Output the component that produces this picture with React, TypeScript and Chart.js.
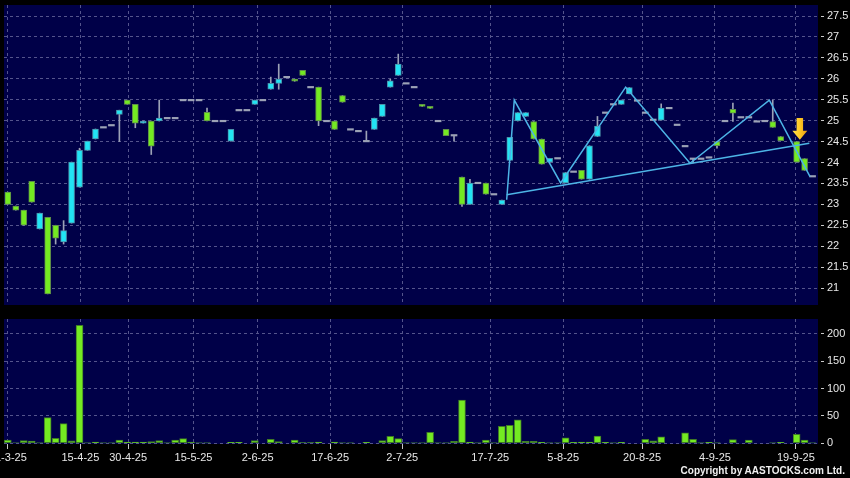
import React, { useEffect, useRef } from 'react';
import { Chart, registerables } from 'chart.js';

Chart.register(...registerables);

// ---- data (one entry per trading slot, null = no trade) ----
const opens = [23.29, 22.96, 22.86, 23.55, 22.41, 22.69, 22.50, 22.10, 22.55, 23.41,
  24.29, 24.56, 24.84, 24.89, 25.15, 25.49, 25.39, 24.94, 24.99, 24.99,
  25.06, 25.06, 25.49, 25.49, 25.49, 25.20, 24.99, 24.99, 24.51, 25.25,
  25.25, 25.39, 25.49, 25.75, 25.89, 26.04, 25.99, 26.20, 25.80, 25.80,
  24.99, 24.99, 25.60, 24.79, 24.75, 24.51, 24.79, 25.10, 25.80, 26.08,
  25.89, 25.80, 25.39, 25.34, 24.99, 24.79, 24.65, 23.65, 23.00, 23.51,
  23.51, 23.24, 23.00, 24.05, 24.99, 25.10, 24.98, 24.56, 24.01, 24.10,
  23.51, 23.78, 23.81, 23.60, 24.62, 25.19, 25.39, 25.39, 25.64, 25.48,
  25.19, 25.02, 25.01, 25.30, 24.90, 24.39, 24.09, 24.09, 24.12, 24.50,
  24.99, 25.27, 25.08, 25.08, 24.98, 24.99, 24.98, 24.62, null, 24.50,
  24.09, 23.67];
const highs = [23.29, 22.96, 22.86, 23.55, 22.79, 22.69, 22.50, 22.61, 24.01, 24.34,
  24.51, 24.80, 24.84, 24.89, 25.25, 25.49, 25.39, 24.99, 24.99, 25.49,
  25.06, 25.06, 25.49, 25.49, 25.49, 25.30, 24.99, 24.99, 24.79, 25.25,
  25.25, 25.49, 25.49, 26.04, 26.35, 26.04, 25.99, 26.20, 25.80, 25.80,
  24.99, 24.99, 25.60, 24.79, 24.75, 24.75, 25.06, 25.39, 25.99, 26.59,
  25.89, 25.80, 25.39, 25.34, 24.99, 24.79, 24.65, 23.65, 23.60, 23.51,
  23.51, 23.24, 23.10, 24.60, 25.19, 25.19, 24.98, 24.56, 24.10, 24.10,
  23.76, 23.78, 23.81, 24.40, 25.10, 25.19, 25.39, 25.49, 25.79, 25.48,
  25.19, 25.02, 25.40, 25.30, 24.90, 24.39, 24.09, 24.09, 24.12, 24.50,
  24.99, 25.42, 25.08, 25.08, 24.98, 24.99, 25.49, 24.62, null, 24.50,
  24.09, 23.67];
const lows = [23.00, 22.86, 22.50, 23.05, 22.41, 20.86, 22.05, 22.05, 22.55, 23.41,
  24.29, 24.56, 24.84, 24.89, 24.50, 25.39, 24.83, 24.94, 24.19, 24.99,
  25.06, 25.06, 25.49, 25.49, 25.49, 24.99, 24.99, 24.99, 24.51, 25.25,
  25.25, 25.39, 25.49, 25.75, 25.75, 26.04, 25.94, 26.08, 25.80, 24.88,
  24.99, 24.79, 25.44, 24.79, 24.75, 24.51, 24.79, 25.10, 25.80, 26.08,
  25.89, 25.80, 25.34, 25.29, 24.99, 24.64, 24.51, 22.95, 23.00, 23.51,
  23.24, 23.24, 23.00, 24.05, 24.99, 25.10, 24.56, 23.96, 24.01, 24.10,
  23.51, 23.78, 23.60, 23.60, 24.62, 25.19, 25.39, 25.39, 25.64, 25.48,
  25.19, 25.02, 25.01, 25.30, 24.90, 24.39, 23.99, 24.09, 24.12, 24.34,
  24.99, 24.98, 25.08, 25.08, 24.98, 24.99, 24.84, 24.52, null, 24.01,
  23.81, 23.67];
const closes = [23.00, 22.86, 22.50, 23.05, 22.79, 20.86, 22.19, 22.37, 24.01, 24.29,
  24.51, 24.80, 24.84, 24.89, 25.25, 25.39, 24.94, 24.99, 24.39, 25.06,
  25.06, 25.06, 25.49, 25.49, 25.49, 24.99, 24.99, 24.99, 24.79, 25.25,
  25.25, 25.49, 25.49, 25.89, 25.99, 26.04, 25.94, 26.08, 25.80, 24.99,
  24.99, 24.79, 25.44, 24.79, 24.75, 24.51, 25.06, 25.39, 25.95, 26.35,
  25.89, 25.80, 25.34, 25.29, 24.99, 24.64, 24.65, 23.00, 23.51, 23.51,
  23.24, 23.24, 23.10, 24.60, 25.19, 25.19, 24.56, 23.96, 24.10, 24.10,
  23.76, 23.78, 23.60, 24.40, 24.87, 25.19, 25.39, 25.49, 25.79, 25.48,
  25.19, 25.02, 25.30, 25.30, 24.90, 24.39, 24.09, 24.09, 24.12, 24.40,
  24.99, 25.18, 25.08, 25.08, 24.98, 24.99, 24.84, 24.52, null, 24.01,
  23.81, 23.67];
const volumes = [6, 1, 5, 4, 0.8, 47, 9, 36, 4.3, 216,
  0.8, 2.4, 0.8, 0.8, 6, 2.4, 2.4, 2.4, 3, 4.9,
  0.8, 6, 8.5, 2, 0.8, 0.8, 0, 0, 1.8, 1.8,
  0, 4.9, 0, 7.3, 3, 0, 6, 1.2, 1.2, 2.4,
  0, 2.4, 0.8, 0.8, 0, 1.8, 0, 5, 12.8, 8.5,
  0.8, 0.8, 0.8, 20, 0.8, 0.8, 3.7, 79, 2.4, 0.8,
  6, 0.8, 31, 33, 43, 3.7, 3.7, 1.8, 0.8, 0.8,
  9.8, 1.8, 2.4, 2.4, 13.4, 1.8, 0.8, 1.8, 0, 0,
  7.3, 4.3, 11.6, 0, 0, 19, 7.3, 0.8, 1.8, 0.8,
  0, 6.7, 0, 6, 0, 0, 0.8, 1.8, null, 16.5,
  6, 0.8];

const tickIndex = [0, 9.1, 15.1, 23.3, 31.35, 40.45, 49.5, 60.55, 69.7, 79.6, 88.75, 98.9];
const tickLabels = ['31-3-25', '15-4-25', '30-4-25', '15-5-25', '2-6-25', '17-6-25', '2-7-25',
  '17-7-25', '5-8-25', '20-8-25', '4-9-25', '19-9-25'];
const priceTicks = [21, 21.5, 22, 22.5, 23, 23.5, 24, 24.5, 25, 25.5, 26, 26.5, 27, 27.5];
const volumeTicks = [0, 50, 100, 150, 200];

// drawn pattern (zigzag + neckline) and marker arrow
const zigzagX = [62.61, 63.56, 69.38, 77.54, 85.62, 95.57, 100.68];
const zigzagY = [23.11, 25.49, 23.51, 25.80, 23.98, 25.49, 23.66];
const necklineX = [62.61, 100.59];
const necklineY = [23.23, 24.46];
const arrowIndex = 99.4;
const arrowTop = 25.06;
const arrowTip = 24.54;

// ---- styles ----
const X_MIN = -0.48;
const X_MAX = 101.68;
const NAVY = '#000048';
const GRID = '#54548c';
const TEXT = '#e8e8e8';
const TICK = '#c8c8c8';
const UP = '#22e4f4';
const UP_BORDER = '#4a92aa';
const DOWN = '#74ea22';
const DOWN_BORDER = '#5e8f48';
const FLAT = '#9ca2b6';
const WICK = '#9ca2b6';
const LINE = '#4db4e6';
const FONT = 'Arial, "Liberation Sans", Helvetica, sans-serif';

const areaBg = {
  id: 'areaBg',
  beforeDraw(chart: any) {
    const { ctx, chartArea: a } = chart;
    ctx.save();
    ctx.fillStyle = NAVY;
    ctx.fillRect(a.left, a.top, a.right - a.left, a.bottom - a.top);
    ctx.restore();
  },
};

const arrowPlugin = {
  id: 'arrowMark',
  afterDatasetsDraw(chart: any) {
    const { ctx } = chart;
    const xs = chart.scales.x;
    const ys = chart.scales.y;
    const cx = xs.getPixelForValue(arrowIndex);
    const top = ys.getPixelForValue(arrowTop);
    const tip = ys.getPixelForValue(arrowTip);
    const headH = 9;
    const shaftW = 6.5;
    const headW = 15;
    ctx.save();
    const g = ctx.createLinearGradient(cx - headW / 2, 0, cx + headW / 2, 0);
    g.addColorStop(0, '#ffe04a');
    g.addColorStop(0.5, '#ffc824');
    g.addColorStop(1, '#e89a10');
    ctx.beginPath();
    ctx.moveTo(cx - shaftW / 2, top);
    ctx.lineTo(cx + shaftW / 2, top);
    ctx.lineTo(cx + shaftW / 2, tip - headH);
    ctx.lineTo(cx + headW / 2, tip - headH);
    ctx.lineTo(cx, tip);
    ctx.lineTo(cx - headW / 2, tip - headH);
    ctx.lineTo(cx - shaftW / 2, tip - headH);
    ctx.closePath();
    ctx.fillStyle = g;
    ctx.fill();
    ctx.restore();
  },
};

function xScale(showLabels: boolean) {
  return {
    type: 'linear',
    min: X_MIN,
    max: X_MAX,
    offset: false,
    bounds: 'data',
    afterBuildTicks: (s: any) => {
      s.ticks = tickIndex.map((v) => ({ value: v }));
    },
    afterFit: (s: any) => {
      s.height = showLabels ? 34 : 0;
      s.paddingLeft = 0;
      s.paddingRight = 0;
    },
    grid: {
      color: GRID,
      lineWidth: 1,
      offset: false,
      drawTicks: showLabels,
      tickLength: 5,
      tickColor: TICK,
      tickBorderDash: [],
    },
    border: { display: false, dash: [3, 3] },
    ticks: {
      display: showLabels,
      autoSkip: false,
      maxRotation: 0,
      minRotation: 0,
      padding: 2,
      color: TEXT,
      font: { family: FONT, size: 11 },
      callback: (_v: any, i: number) => tickLabels[i],
    },
  };
}

function yScale(min: number, max: number, ticks: number[]) {
  return {
    type: 'linear',
    position: 'right',
    min,
    max,
    bounds: 'data',
    afterBuildTicks: (s: any) => {
      s.ticks = ticks.map((v) => ({ value: v }));
    },
    afterFit: (s: any) => {
      s.width = 32;
      s.paddingTop = 0;
      s.paddingBottom = 0;
    },
    grid: {
      color: GRID,
      lineWidth: 1,
      drawTicks: true,
      tickLength: 6,
      tickColor: TICK,
      tickBorderDash: [0, 3, 3],
    },
    border: { display: false, dash: [3, 3] },
    ticks: {
      color: TEXT,
      padding: 3,
      font: { family: FONT, size: 11 },
      callback: (v: any) => String(v),
    },
  };
}

function priceConfig(): any {
  const bodyData = opens.map((o, i) => {
    const c = closes[i];
    if (o == null || c == null) return { x: i, y: null };
    const lo = Math.min(o, c);
    const hi = Math.max(o, c);
    return hi - lo < 0.001 ? { x: i, y: [lo - 0.018, hi + 0.018] } : { x: i, y: [lo, hi] };
  });
  const bodyFill = opens.map((o, i) => {
    const c = closes[i];
    if (o == null || c == null) return 'transparent';
    return c > o ? UP : c < o ? DOWN : FLAT;
  });
  const bodyBorder = opens.map((o, i) => {
    const c = closes[i];
    if (o == null || c == null) return 'transparent';
    return c > o ? UP_BORDER : c < o ? DOWN_BORDER : FLAT;
  });
  const bodyBorderW = opens.map((o, i) => (o == null || o === closes[i] ? 0 : 1));
  const wickData = highs.map((h, i) => {
    const l = lows[i];
    if (h == null || l == null || h - l < 0.001) return { x: i, y: null };
    return { x: i, y: [l, h] };
  });

  return {
    type: 'bar',
    data: {
      datasets: [
        {
          type: 'line',
          data: zigzagX.map((x, i) => ({ x, y: zigzagY[i] })),
          borderColor: LINE,
          borderWidth: 1.5,
          pointRadius: 0,
          fill: false,
          tension: 0,
          order: 0,
        },
        {
          type: 'line',
          data: necklineX.map((x, i) => ({ x, y: necklineY[i] })),
          borderColor: LINE,
          borderWidth: 1.5,
          pointRadius: 0,
          fill: false,
          tension: 0,
          order: 0,
        },
        {
          type: 'bar',
          data: bodyData,
          backgroundColor: bodyFill,
          borderColor: bodyBorder,
          borderWidth: bodyBorderW,
          borderSkipped: false,
          barThickness: 6,
          grouped: false,
          order: 1,
        },
        {
          type: 'bar',
          data: wickData,
          backgroundColor: WICK,
          borderWidth: 0,
          barThickness: 1,
          grouped: false,
          order: 2,
        },
      ],
    },
    options: {
      responsive: false,
      animation: false,
      devicePixelRatio: 1,
      events: [],
      layout: { padding: { left: 4, top: 5, right: 0, bottom: 5 } },
      plugins: { legend: { display: false }, tooltip: { enabled: false } },
      scales: {
        x: xScale(false),
        y: yScale(20.594, 27.763, priceTicks),
      },
    },
    plugins: [areaBg, arrowPlugin],
  };
}

function volumeConfig(): any {
  return {
    type: 'bar',
    data: {
      datasets: [
        {
          data: volumes.map((v, i) => ({ x: i, y: v })),
          backgroundColor: DOWN,
          borderColor: '#3f7a26',
          borderWidth: 1,
          borderSkipped: false,
          barThickness: 7,
          grouped: false,
        },
      ],
    },
    options: {
      responsive: false,
      animation: false,
      devicePixelRatio: 1,
      events: [],
      layout: { padding: { left: 4, top: 9, right: 0, bottom: 0 } },
      plugins: { legend: { display: false }, tooltip: { enabled: false } },
      scales: {
        x: xScale(true),
        y: yScale(-1.3, 227.4, volumeTicks),
      },
    },
    plugins: [areaBg],
  };
}

export default function App() {
  const priceRef = useRef<HTMLCanvasElement>(null);
  const volRef = useRef<HTMLCanvasElement>(null);

  useEffect(() => {
    const p = new Chart(priceRef.current as HTMLCanvasElement, priceConfig());
    const v = new Chart(volRef.current as HTMLCanvasElement, volumeConfig());
    return () => {
      p.destroy();
      v.destroy();
    };
  }, []);

  return (
    <div
      style={{
        position: 'fixed',
        left: 0,
        top: 0,
        width: 850,
        height: 478,
        background: '#000',
        overflow: 'hidden',
      }}
    >
      <canvas ref={priceRef} width={850} height={310} style={{ position: 'absolute', left: 0, top: 0 }} />
      <canvas ref={volRef} width={850} height={168} style={{ position: 'absolute', left: 0, top: 310 }} />
      <div
        style={{
          position: 'absolute',
          right: 5,
          top: 466,
          font: `bold 10px ${FONT}`,
          lineHeight: '10px',
          color: '#f0f0f0',
          whiteSpace: 'nowrap',
        }}
      >
        Copyright by AASTOCKS.com Ltd.
      </div>
    </div>
  );
}
